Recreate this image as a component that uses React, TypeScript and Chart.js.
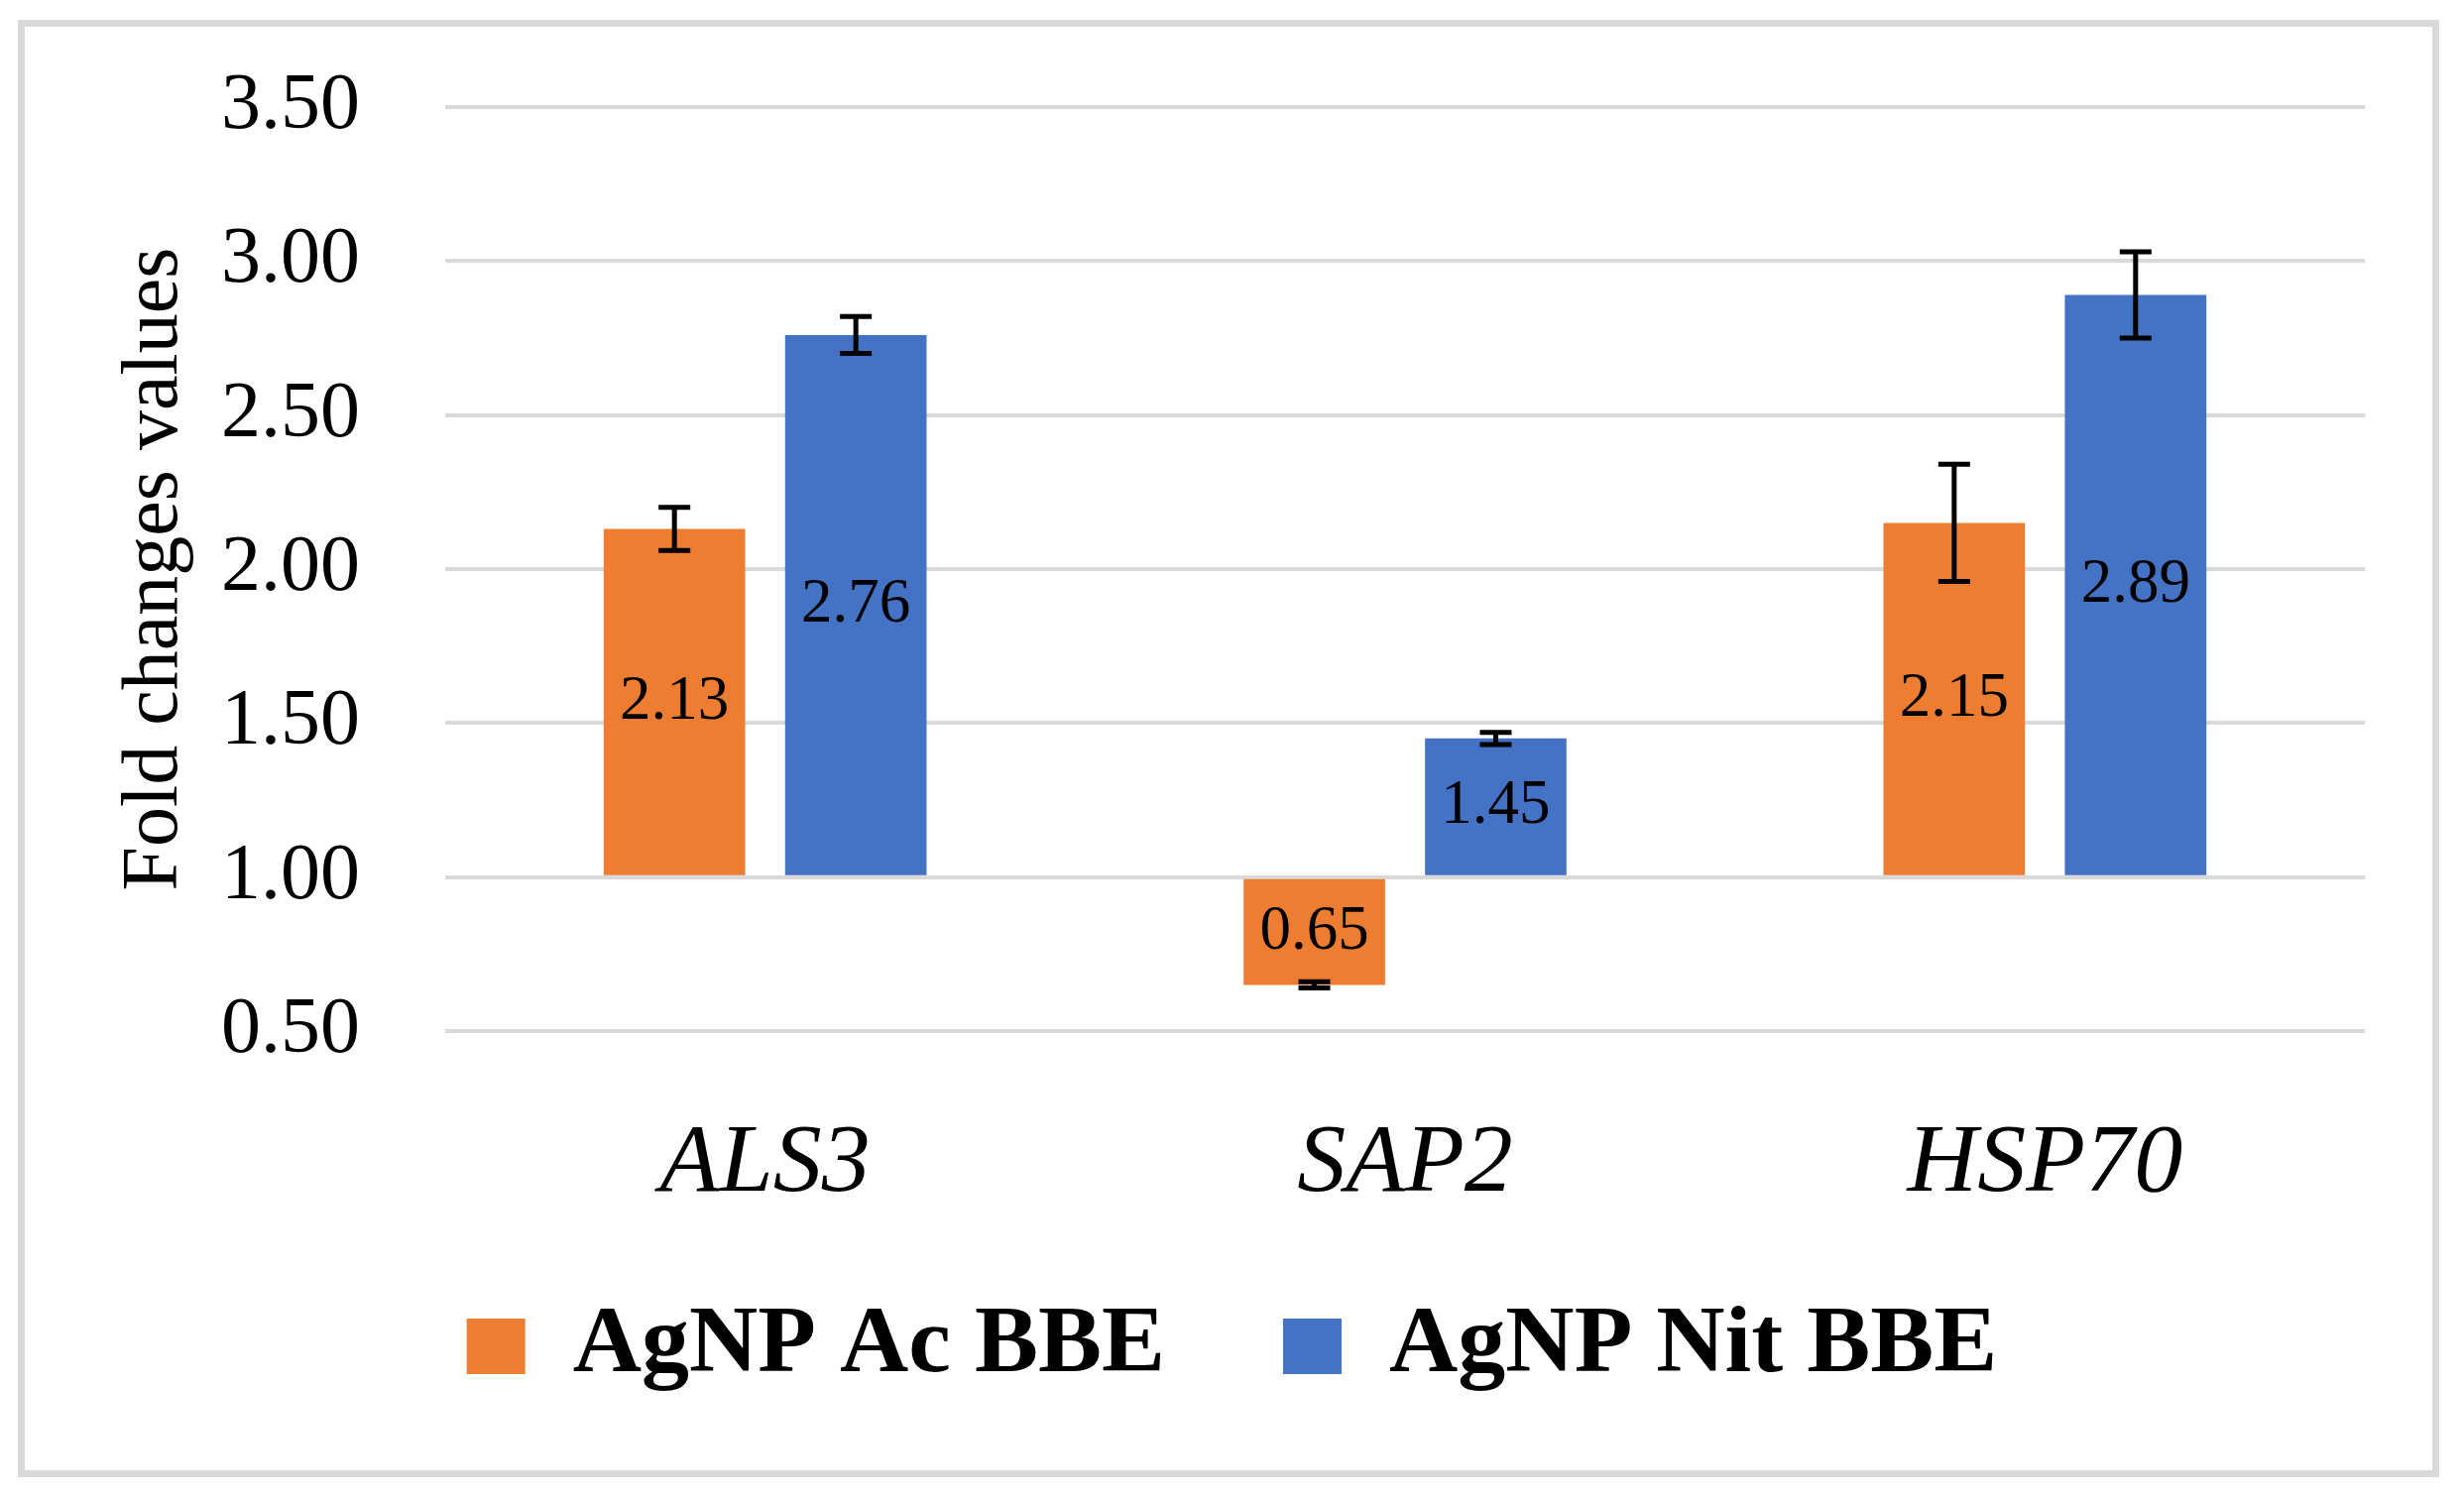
import React, { useEffect, useRef } from 'react';
import { Chart, registerables } from 'chart.js';

Chart.register(...registerables);

const categories = ['ALS3', 'SAP2', 'HSP70'];
const seriesNames = ['AgNP Ac BBE', 'AgNP Nit BBE'];
const acValues = [2.13, 0.65, 2.15];
const nitValues = [2.76, 1.45, 2.89];
const acErrors = [0.07, 0.01, 0.19];
const nitErrors = [0.06, 0.02, 0.14];
const yTickValues = [0.5, 1.0, 1.5, 2.0, 2.5, 3.0, 3.5];
const barBase = 1.0;
const yTitle = 'Fold changes values';

const FONT = "'Liberation Serif', 'Times New Roman', serif";
const W = 2485;
const H = 1513;

const errorsBySeries = [acErrors, nitErrors];

const errorBarPlugin = {
  id: 'errorBars',
  afterDatasetsDraw(chart: any) {
    const ctx = chart.ctx;
    const yScale = chart.scales.y;
    ctx.save();
    ctx.strokeStyle = '#000000';
    ctx.lineWidth = 5;
    chart.data.datasets.forEach((ds: any, i: number) => {
      const meta = chart.getDatasetMeta(i);
      const errs = errorsBySeries[i];
      meta.data.forEach((el: any, j: number) => {
        const v = ds.data[j];
        const e = errs[j];
        const x = el.x;
        const yt = yScale.getPixelForValue(v + e);
        const yb = yScale.getPixelForValue(v - e);
        const cap = 16;
        ctx.beginPath();
        ctx.moveTo(x, yt);
        ctx.lineTo(x, yb);
        ctx.moveTo(x - cap, yt);
        ctx.lineTo(x + cap, yt);
        ctx.moveTo(x - cap, yb);
        ctx.lineTo(x + cap, yb);
        ctx.stroke();
      });
    });
    ctx.restore();
  },
};

const dataLabelPlugin = {
  id: 'centerLabels',
  afterDatasetsDraw(chart: any) {
    const ctx = chart.ctx;
    ctx.save();
    ctx.fillStyle = '#000000';
    ctx.font = `63px ${FONT}`;
    ctx.textAlign = 'center';
    ctx.textBaseline = 'middle';
    chart.data.datasets.forEach((ds: any, i: number) => {
      const meta = chart.getDatasetMeta(i);
      meta.data.forEach((el: any, j: number) => {
        const p = el.getProps(['x', 'y', 'base'], true);
        ctx.fillText(Number(ds.data[j]).toFixed(2), p.x, (p.y + p.base) / 2);
      });
    });
    ctx.restore();
  },
};

const bgPlugin = {
  id: 'whiteBg',
  beforeDraw(chart: any) {
    const ctx = chart.ctx;
    ctx.save();
    ctx.fillStyle = '#ffffff';
    ctx.fillRect(0, 0, chart.width, chart.height);
    ctx.restore();
  },
};

export default function App() {
  const canvasRef = useRef<HTMLCanvasElement | null>(null);

  useEffect(() => {
    if (!canvasRef.current) return;
    const chart = new Chart(canvasRef.current, {
      type: 'bar',
      data: {
        labels: categories,
        datasets: [
          {
            label: seriesNames[0],
            data: acValues,
            backgroundColor: '#ED7D31',
            base: barBase,
            categoryPercentage: 0.567,
            barPercentage: 0.78,
          } as any,
          {
            label: seriesNames[1],
            data: nitValues,
            backgroundColor: '#4472C4',
            base: barBase,
            categoryPercentage: 0.567,
            barPercentage: 0.78,
          } as any,
        ],
      },
      options: {
        animation: false,
        responsive: false,
        devicePixelRatio: 1,
        layout: { padding: { left: 100, right: 100, top: 108, bottom: 97 } },
        plugins: {
          tooltip: { enabled: false },
          legend: {
            position: 'bottom',
            labels: {
              font: { family: FONT, size: 96, weight: 'bold' },
              color: '#000000',
              boxWidth: 59,
              boxHeight: 56,
              padding: 119,
            },
          },
        },
        scales: {
          x: {
            grid: { display: false, drawTicks: false },
            border: { display: false },
            ticks: {
              font: { family: FONT, size: 98, style: 'italic' },
              color: '#000000',
              padding: -194,
              mirror: true,
            },
            afterFit: (s: any) => {
              s.height = 151;
              s.paddingLeft = 0;
              s.paddingRight = 0;
            },
          },
          y: {
            min: 0.5,
            max: 3.5,
            grid: { color: '#D9D9D9', lineWidth: 4, drawTicks: false },
            border: { display: false },
            afterBuildTicks: (s: any) => {
              s.ticks = yTickValues.map((v) => ({ value: v }));
            },
            ticks: {
              font: { family: FONT, size: 80 },
              color: '#000000',
              padding: 86,
              callback: (v: any) => Number(v).toFixed(2),
            },
            title: {
              display: true,
              text: yTitle,
              font: { family: FONT, size: 80 },
              color: '#000000',
              padding: { top: 9, bottom: 0 },
            },
            afterFit: (s: any) => {
              s.width = 349;
              s.paddingTop = 0;
              s.paddingBottom = 0;
            },
          },
        },
      },
      plugins: [bgPlugin, dataLabelPlugin, errorBarPlugin],
    });
    return () => chart.destroy();
  }, []);

  return (
    <div style={{ position: 'absolute', left: 0, top: 0, width: W, height: H, background: '#ffffff' }}>
      <canvas ref={canvasRef} width={W} height={H} style={{ width: W, height: H, display: 'block' }} />
      <div
        style={{
          position: 'absolute',
          left: 18,
          top: 20,
          width: 2442,
          height: 1470,
          border: '7px solid #D9D9D9',
          boxSizing: 'border-box',
          pointerEvents: 'none',
        }}
      />
    </div>
  );
}
